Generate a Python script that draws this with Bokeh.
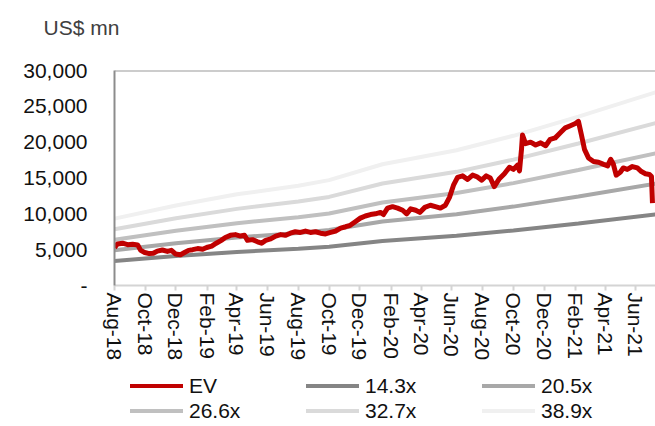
import pandas as pd
from bokeh.plotting import figure
from bokeh.layouts import column
from bokeh.models import (FixedTicker, DatetimeTickFormatter, NumeralTickFormatter,
                          Legend, LegendItem, Span, Range1d)
from bokeh.embed import file_html
from bokeh.resources import INLINE

# ---------------- data ----------------
ev_dates = ["2018-08-01", "2018-08-07", "2018-08-17", "2018-08-27", "2018-09-06", "2018-09-16",
            "2018-09-22", "2018-09-30", "2018-10-09", "2018-10-17", "2018-10-25", "2018-11-04",
            "2018-11-14", "2018-11-22", "2018-11-30", "2018-12-10", "2018-12-18", "2018-12-26",
            "2019-01-03", "2019-01-13", "2019-01-23", "2019-01-31", "2019-02-10", "2019-02-19",
            "2019-03-01", "2019-03-09", "2019-03-19", "2019-03-29", "2019-04-08", "2019-04-16",
            "2019-04-22", "2019-05-02", "2019-05-12", "2019-05-20", "2019-05-28", "2019-06-07",
            "2019-06-17", "2019-06-27", "2019-07-06", "2019-07-16", "2019-07-26", "2019-08-05",
            "2019-08-15", "2019-08-25", "2019-09-04", "2019-09-14", "2019-09-24", "2019-10-04",
            "2019-10-14", "2019-10-24", "2019-11-03", "2019-11-12", "2019-11-22", "2019-12-02",
            "2019-12-12", "2019-12-22", "2020-01-01", "2020-01-11", "2020-01-17", "2020-01-25",
            "2020-02-04", "2020-02-14", "2020-02-24", "2020-03-03", "2020-03-11", "2020-03-21",
            "2020-03-29", "2020-04-08", "2020-04-19", "2020-04-29", "2020-05-09", "2020-05-19",
            "2020-05-27", "2020-06-04", "2020-06-12", "2020-06-22", "2020-07-02", "2020-07-12",
            "2020-07-20", "2020-07-30", "2020-08-08", "2020-08-16", "2020-08-24", "2020-09-03",
            "2020-09-13", "2020-09-23", "2020-10-01", "2020-10-09", "2020-10-13", "2020-10-17",
            "2020-10-19", "2020-10-25", "2020-11-04", "2020-11-14", "2020-11-24", "2020-12-04",
            "2020-12-13", "2020-12-23", "2021-01-02", "2021-01-12", "2021-01-22", "2021-02-01",
            "2021-02-07", "2021-02-13", "2021-02-19", "2021-02-27", "2021-03-09", "2021-03-19",
            "2021-03-29", "2021-04-06", "2021-04-12", "2021-04-17", "2021-04-23", "2021-05-01",
            "2021-05-07", "2021-05-15", "2021-05-25", "2021-06-04", "2021-06-12", "2021-06-20",
            "2021-06-28", "2021-07-02", "2021-07-04"]
ev_values = [5300, 5800, 5900, 5700, 5750, 5650,
             4900, 4600, 4450, 4500, 4800, 4950,
             4750, 4900, 4400, 4300, 4600, 4900,
             5000, 5150, 5050, 5300, 5500, 5900,
             6300, 6700, 7000, 7100, 6900, 7000,
             6300, 6400, 6100, 5900, 6300, 6500,
             6900, 7100, 7000, 7300, 7500, 7400,
             7600, 7400, 7500, 7300, 7200, 7400,
             7600, 8000, 8200, 8400, 8900, 9400,
             9700, 9900, 10000, 10200, 9900, 10800,
             11000, 10800, 10500, 10000, 10700, 10500,
             10200, 10900, 11200, 11000, 10800, 11200,
             12300, 14000, 15100, 15300, 14800, 15400,
             15200, 14700, 15300, 15000, 13800, 14900,
             15600, 16500, 16200, 16800, 16000, 19000,
             21000, 19800, 20000, 19600, 19900, 19500,
             20400, 20600, 21300, 22000, 22300, 22600,
             22900, 21000, 19000, 17800, 17300, 17200,
             16900, 16700, 17600, 17000, 15400, 15800,
             16400, 16200, 16600, 16400, 15900, 15600,
             15500, 15200, 11500]

band_dates = ["2018-08-01", "2018-12-01", "2019-04-01", "2019-08-01", "2019-10-01",
              "2020-01-15", "2020-06-10", "2020-10-01", "2021-02-07", "2021-07-10"]
band_14_3x = [3432, 4104, 4676, 5119, 5405, 6221, 6936, 7679, 8666, 9910]
band_20_5x = [4920, 5884, 6704, 7339, 7749, 8918, 9943, 11009, 12423, 14207]
band_26_6x = [6384, 7634, 8698, 9523, 10055, 11571, 12901, 14284, 16120, 18434]
band_32_7x = [7848, 9385, 10693, 11707, 12361, 14225, 15860, 17560, 19816, 22661]
band_38_9x = [9336, 11164, 12720, 13926, 14704, 16922, 18867, 20889, 23573, 26958]

band_labels = ["14.3x", "20.5x", "26.6x", "32.7x", "38.9x"]
x_tick_labels = ["Aug-18", "Oct-18", "Dec-18", "Feb-19", "Apr-19", "Jun-19", "Aug-19", "Oct-19",
                 "Dec-19", "Feb-20", "Apr-20", "Jun-20", "Aug-20", "Oct-20", "Dec-20", "Feb-21",
                 "Apr-21", "Jun-21"]
y_ticks = [0, 5000, 10000, 15000, 20000, 25000, 30000]

# ---------------- figure ----------------
FONT = "Liberation Sans"
EV_COLOR = "#c00000"
band_colors = ["#858585", "#a8a8a8", "#c0c0c0", "#dadada", "#f0f0f0"]
band_series = [band_14_3x, band_20_5x, band_26_6x, band_32_7x, band_38_9x]

ev_x = pd.to_datetime(ev_dates)
band_x = pd.to_datetime(band_dates)
tick_dt = [pd.to_datetime(t, format="%b-%y") for t in x_tick_labels]
tick_ms = [int(t.value // 10**6) for t in tick_dt]

x_rng = Range1d(pd.Timestamp("2018-08-01"), pd.Timestamp("2021-07-10"))

p = figure(x_axis_type="datetime", frame_width=541, frame_height=215,
           min_border_left=114, min_border_right=0, min_border_top=70, min_border_bottom=80,
           x_range=x_rng, y_range=Range1d(0, 30000),
           output_backend="svg", toolbar_location=None, title="US$ mn\n ")
p.outline_line_color = None
p.grid.visible = False
p.background_fill_color = "white"
p.border_fill_color = "white"

p.title.text_font = FONT
p.title.text_font_size = "21px"
p.title.text_font_style = "normal"
p.title.text_color = "#404040"
p.title.align = "left"
p.title.offset = -71
p.title.standoff = 18

for vals, col in zip(band_series, band_colors):
    p.line(band_x, vals, line_color=col, line_width=4, line_cap="round")

p.line(ev_x, ev_values, line_color=EV_COLOR, line_width=5, line_join="round")

# top border
p.add_layout(Span(location=30000, dimension="width", line_color="#999999", line_width=2))

# y axis
yax = p.yaxis[0]
yax.ticker = FixedTicker(ticks=y_ticks)
yax.formatter = NumeralTickFormatter(format="0,0")
yax.major_label_overrides = {0: "-"}
yax.axis_line_color = "#8c8c8c"
yax.axis_line_width = 2
yax.major_tick_out = 0
yax.major_tick_in = 0
yax.minor_tick_out = 0
yax.minor_tick_in = 0
yax.major_label_standoff = 27
yax.major_label_text_font = FONT
yax.major_label_text_font_size = "21px"
yax.major_label_text_color = "#111111"

# x axis
xax = p.xaxis[0]
xax.ticker = FixedTicker(ticks=tick_ms)
xax.formatter = DatetimeTickFormatter(months="%b-%y", days="%b-%y", years="%b-%y")
xax.major_label_overrides = {ms: lbl for ms, lbl in zip(tick_ms, x_tick_labels)}
xax.major_label_orientation = "vertical"
xax.axis_line_color = "#d4d4d4"
xax.axis_line_width = 2
xax.major_tick_line_color = "#d4d4d4"
xax.major_tick_line_width = 2
xax.major_tick_out = 5
xax.major_tick_in = 0
xax.minor_tick_out = 0
xax.minor_tick_in = 0
xax.major_label_standoff = 2
xax.major_label_text_font = FONT
xax.major_label_text_font_size = "21px"
xax.major_label_text_color = "#111111"

# ---------------- legend strip ----------------
# same series, drawn outside this strip's visible y range so only the legend shows
leg = figure(x_axis_type="datetime", width=655, height=61, min_border=0,
             x_axis_location=None, y_axis_location=None,
             x_range=x_rng, y_range=Range1d(-2, -1),
             output_backend="svg", toolbar_location=None)
leg.outline_line_color = None
leg.grid.visible = False
leg.background_fill_color = "white"
leg.border_fill_color = "white"

items = []
r_ev = leg.line(ev_x, ev_values, line_color=EV_COLOR, line_width=4, line_cap="round")
items.append(LegendItem(label="EV", renderers=[r_ev]))
for lbl, vals, col in zip(band_labels, band_series, band_colors):
    r = leg.line(band_x, vals, line_color=col, line_width=4, line_cap="round")
    items.append(LegendItem(label=lbl, renderers=[r]))

legend = Legend(items=items, ncols=3, orientation="horizontal", location=(16, 3),
                glyph_width=53, glyph_height=25, label_standoff=6, label_width=117,
                label_height=25, spacing=0, padding=0, margin=0,
                border_line_color=None, background_fill_alpha=0,
                label_text_font=FONT, label_text_font_size="21px",
                label_text_color="#111111")
leg.add_layout(legend, "center")

layout = column(p, leg, spacing=0)
open("out.html", "w").write(file_html(layout, INLINE))
